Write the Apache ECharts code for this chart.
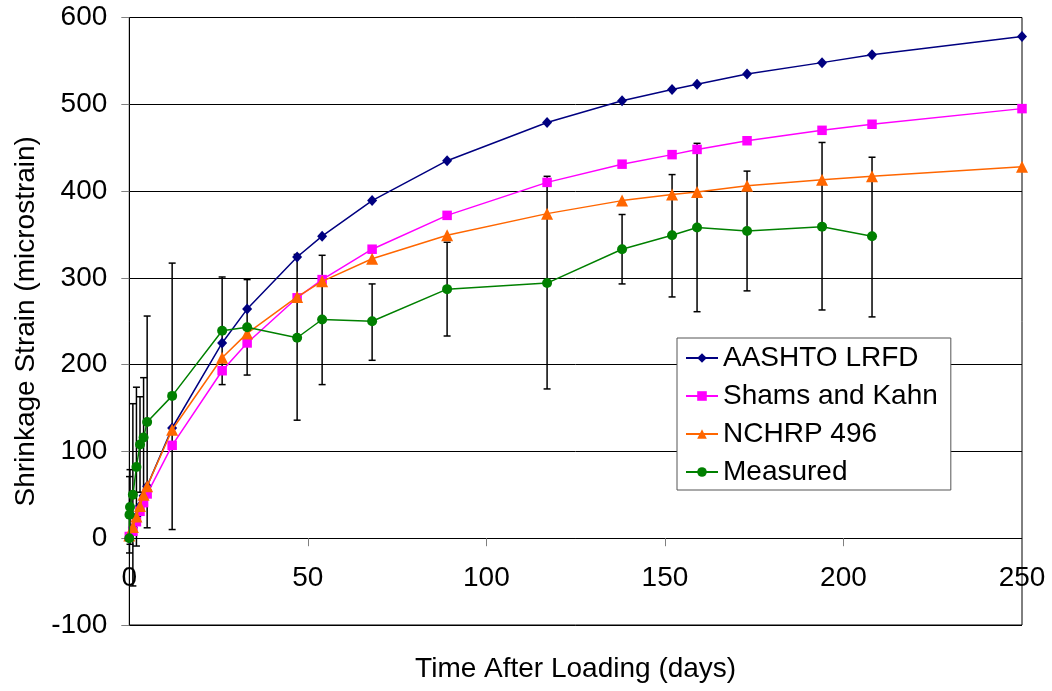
<!DOCTYPE html>
<html>
<head>
<meta charset="utf-8">
<script src="https://cdn.jsdelivr.net/npm/echarts@6/dist/echarts.min.js"></script>
<style>
html,body{margin:0;padding:0;background:#fff;}
#chart{width:1052px;height:691px;}
</style>
</head>
<body>
<div id="chart"></div>
<script>
// ---- data ----
const modelDays = [0, 1, 2, 3, 4, 5, 12, 26, 33, 47, 54, 68, 89, 117, 138, 152, 159, 173, 194, 208, 250];
const aashto = [0, 12, 25, 37, 49, 60, 127, 225, 264, 324, 348, 389, 435, 479, 504, 517, 523, 535, 548, 557, 578];
const shams  = [2, 8, 19, 31, 41, 51, 107, 193, 225, 277, 298, 333, 372, 410, 431, 442, 448, 458, 470, 477, 495];
const nchrp  = [3, 13, 25, 37, 50, 60, 125, 208, 236, 278, 296, 322, 349, 374, 389, 396, 399, 406, 413, 417, 428];

const measuredDays = [0, 0.05, 0.2, 1, 2, 3, 4, 5, 12, 26, 33, 47, 54, 68, 89, 117, 138, 152, 159, 173, 194, 208];
const measured     = [0, 27, 36, 50, 82, 108, 116, 134, 164, 239, 243, 231, 252, 250, 287, 294, 333, 349, 358, 354, 359, 348];
const measuredLow  = [0, -17, -7, -55, -9, 53, 47, 12, 10, 177, 188, 136, 177, 205, 233, 172, 293, 278, 261, 285, 263, 255];
const measuredHigh = [0, 71, 79, 155, 174, 163, 185, 256, 317, 301, 298, 327, 326, 293, 341, 417, 373, 419, 455, 423, 456, 439];

const seriesNames = ['AASHTO LRFD', 'Shams and Kahn', 'NCHRP 496', 'Measured'];
const xTicks = {min: 0, max: 250, interval: 50};
const yTicks = {min: -100, max: 600, interval: 100};
const xTitle = 'Time After Loading (days)';
const yTitle = 'Shrinkage Strain (microstrain)';

// ---- chart ----
const FONT = '"Liberation Sans", Arial, sans-serif';
const pairs = (xs, ys) => xs.map((x, i) => [x, ys[i]]);
const errData = measuredDays.map((d, i) => [d, measuredLow[i], measuredHigh[i]])
  .filter(r => r[1] !== r[2]);

const chart = echarts.init(document.getElementById('chart'), null, {renderer: 'canvas'});
chart.setOption({
  animation: false,
  backgroundColor: '#fff',
  grid: {left: 129.3, right: 30, top: 17.5, bottom: 66, containLabel: false, outerBoundsMode: 'none',
         show: true, borderColor: '#000', borderWidth: 1, backgroundColor: 'transparent'},
  xAxis: {
    type: 'value', min: xTicks.min, max: xTicks.max, interval: xTicks.interval,
    name: xTitle, nameLocation: 'middle', nameGap: 30,
    nameTextStyle: {fontFamily: FONT, fontSize: 28, color: '#000'},
    axisLine: {onZero: true, lineStyle: {color: '#000', width: 1}},
    axisTick: {show: true, length: 8, lineStyle: {color: '#808080', width: 1}},
    axisLabel: {fontFamily: FONT, fontSize: 28, color: '#000', margin: -61},
    splitLine: {show: false}
  },
  yAxis: {
    type: 'value', min: yTicks.min, max: yTicks.max, interval: yTicks.interval,
    name: yTitle, nameLocation: 'middle', nameGap: 73, nameRotate: 90,
    nameTextStyle: {fontFamily: FONT, fontSize: 28, color: '#000'},
    axisLine: {show: true, onZero: false, lineStyle: {color: '#000', width: 1}},
    axisTick: {show: true, length: 8, lineStyle: {color: '#808080', width: 1}},
    axisLabel: {fontFamily: FONT, fontSize: 28, color: '#000', margin: 22},
    splitLine: {show: true, lineStyle: {color: '#000', width: 1}}
  },
  legend: {
    data: seriesNames,
    orient: 'vertical', left: 677, top: 338,
    padding: [6, 13, 4, 8], itemGap: 10, itemWidth: 32, itemHeight: 12,
    backgroundColor: '#fff', borderColor: '#555', borderWidth: 1, borderRadius: 0,
    textStyle: {fontFamily: FONT, fontSize: 28, color: '#000'}
  },
  series: [
    {
      type: 'custom', name: 'err', z: 1, silent: true,
      data: errData,
      encode: {x: 0, y: [1, 2]},
      renderItem: function (params, api) {
        const x = api.value(0), lo = api.value(1), hi = api.value(2);
        const p1 = api.coord([x, hi]);
        const p2 = api.coord([x, lo]);
        const w = 3.5;
        const style = {stroke: '#000', lineWidth: 1.5, fill: null};
        return {
          type: 'group',
          children: [
            {type: 'line', shape: {x1: p1[0], y1: p1[1], x2: p2[0], y2: p2[1]}, style: style},
            {type: 'line', shape: {x1: p1[0] - w, y1: p1[1], x2: p1[0] + w, y2: p1[1]}, style: style},
            {type: 'line', shape: {x1: p2[0] - w, y1: p2[1], x2: p2[0] + w, y2: p2[1]}, style: style}
          ]
        };
      }
    },
    {
      type: 'line', name: seriesNames[0], z: 2, data: pairs(modelDays, aashto),
      symbol: 'diamond', symbolSize: [10, 11],
      lineStyle: {color: '#000080', width: 1.5}, itemStyle: {color: '#000080'}
    },
    {
      type: 'line', name: seriesNames[1], z: 3, data: pairs(modelDays, shams),
      symbol: 'rect', symbolSize: 9.5,
      lineStyle: {color: '#FF00FF', width: 1.5}, itemStyle: {color: '#FF00FF'}
    },
    {
      type: 'line', name: seriesNames[2], z: 4, data: pairs(modelDays, nchrp),
      symbol: 'triangle', symbolSize: 12,
      lineStyle: {color: '#FF6600', width: 1.5}, itemStyle: {color: '#FF6600'}
    },
    {
      type: 'line', name: seriesNames[3], z: 5, data: pairs(measuredDays, measured),
      symbol: 'circle', symbolSize: 10,
      lineStyle: {color: '#008000', width: 1.5}, itemStyle: {color: '#008000'}
    }
  ]
});
</script>
</body>
</html>
